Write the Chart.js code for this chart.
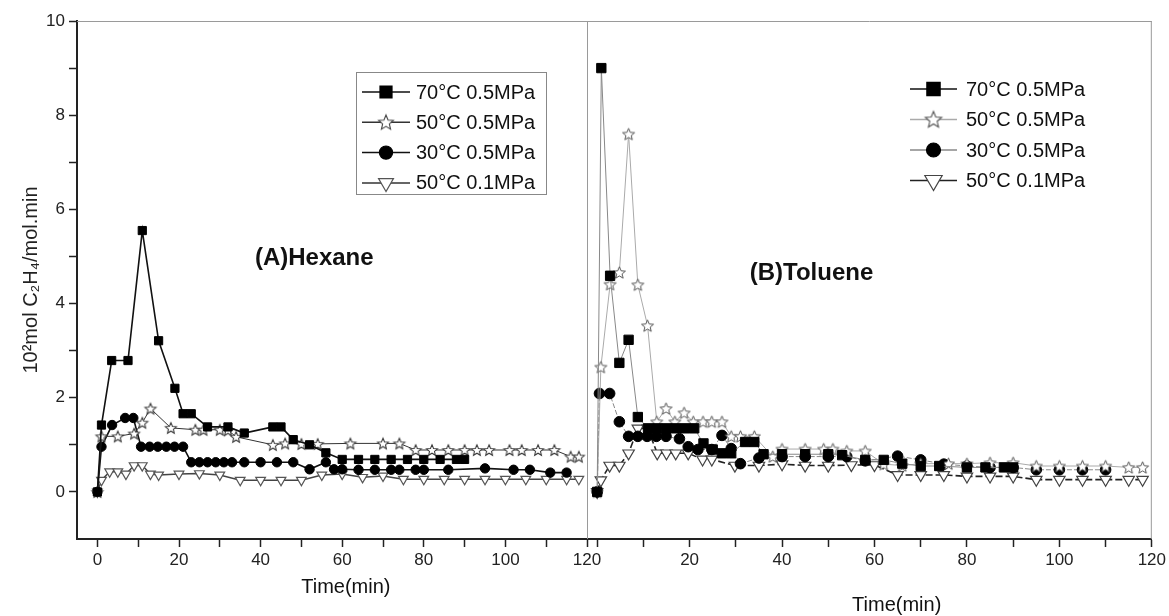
<!DOCTYPE html>
<html><head><meta charset="utf-8">
<script src="https://cdn.jsdelivr.net/npm/chart.js@4/dist/chart.umd.min.js"></script>
<style>
html,body{margin:0;padding:0;background:#fff;}
#wrap{position:relative;width:1169px;height:616px;background:#fff;}
#wrap canvas{position:absolute;left:0;top:0;}
</style></head><body>
<div id="wrap"><canvas id="cA" width="1169" height="616"></canvas><canvas id="cB" width="1169" height="616"></canvas></div>
<script>
// ---------- data ----------
const seriesNames = ['70°C 0.5MPa', '50°C 0.5MPa', '30°C 0.5MPa', '50°C 0.1MPa'];
const yMajor = [0, 2, 4, 6, 8, 10];
const yMinor = [1, 3, 5, 7, 9];
const xMajor = [0, 20, 40, 60, 80, 100, 120];
const xMinor = [10, 30, 50, 70, 90, 110];
const xLabelsRight = [20, 40, 60, 80, 100, 120];

// (A) Hexane
const hexT70 = [0,1,3.5,7.5,11,15,19,21,23,27,32,36,43,45,48,52,56,60,64,68,72,76,80,84,88,90];
const hexV70 = [0,1.42,2.79,2.79,5.55,3.21,2.2,1.66,1.66,1.38,1.38,1.25,1.38,1.38,1.11,1.0,0.83,0.69,0.69,0.69,0.69,0.69,0.69,0.69,0.69,0.69];
const hexT50 = [0,1,5,9,11,13,18,24,26,30,32,34,43,46,50,54,62,70,74,78,82,86,90,93,96,101,104,108,112,116,118];
const hexV50 = [0,1.18,1.18,1.24,1.47,1.77,1.36,1.32,1.32,1.32,1.31,1.17,1.0,1.03,1.02,1.02,1.03,1.03,1.03,0.89,0.89,0.89,0.89,0.89,0.89,0.89,0.89,0.89,0.89,0.75,0.75];
const hexT30 = [0,1,3.6,6.8,8.8,10.7,12.8,14.8,16.9,18.9,21,23,25,27,29,31,33,36,40,44,48,52,56,58,60,64,68,72,74,78,80,86,95,102,106,111,115];
const hexV30 = [0,0.96,1.42,1.57,1.57,0.96,0.96,0.96,0.96,0.96,0.96,0.63,0.63,0.63,0.63,0.63,0.63,0.63,0.63,0.63,0.63,0.48,0.63,0.48,0.48,0.47,0.47,0.47,0.47,0.47,0.47,0.47,0.5,0.47,0.47,0.41,0.41];
const hexT01 = [0,1,3,5,7,9,11,13,15,20,25,30,35,40,45,50,55,60,65,70,75,80,85,90,95,100,105,110,115,118];
const hexV01 = [0,0.25,0.43,0.43,0.38,0.56,0.56,0.38,0.36,0.38,0.39,0.36,0.25,0.25,0.25,0.25,0.36,0.38,0.31,0.34,0.27,0.27,0.27,0.27,0.27,0.27,0.27,0.27,0.27,0.27];

// (B) Toluene
const tolT70 = [0,0.9,2.8,4.8,6.8,8.8,11,13,15,17,19,21,23,25,27,29,32,34,36,40,45,50,53,58,62,66,70,74,80,84,88,90];
const tolV70 = [0,9.0,4.59,2.74,3.23,1.59,1.35,1.35,1.35,1.35,1.35,1.35,1.03,0.9,0.82,0.82,1.06,1.06,0.8,0.8,0.8,0.8,0.78,0.68,0.68,0.6,0.55,0.55,0.52,0.52,0.52,0.52];
const tolT50 = [0,0.8,2.8,4.8,6.8,8.8,10.9,12.9,14.9,16.8,18.8,20.8,22.9,24.8,27,29,31,34,38,40,45,49,51,54,58,62,66,70,76,80,85,90,95,100,105,110,115,118];
const tolV50 = [0,2.65,4.41,4.66,7.6,4.4,3.53,1.49,1.77,1.49,1.68,1.49,1.49,1.49,1.49,1.18,1.18,1.18,0.75,0.91,0.91,0.91,0.91,0.87,0.87,0.59,0.56,0.6,0.6,0.6,0.62,0.62,0.55,0.55,0.55,0.55,0.52,0.52];
const tolT30 = [0,0.5,2.7,4.8,6.8,8.8,10.8,12.8,14.9,17.8,19.7,21.8,24.8,27,29,31,35,40,45,50,54,58,65,70,75,80,85,90,95,100,105,110];
const tolV30 = [0,2.09,2.09,1.49,1.18,1.18,1.18,1.18,1.18,1.13,0.96,0.9,0.9,1.2,0.92,0.6,0.72,0.75,0.75,0.75,0.75,0.66,0.76,0.68,0.59,0.55,0.52,0.52,0.47,0.47,0.47,0.47];
const tolT01 = [0,0.8,2.7,4.8,6.8,8.8,10.9,13,15,17,19.7,22.8,24.8,29.8,35,40,45,50,55,60,65,70,75,80,85,90,95,100,105,110,115,118];
const tolV01 = [0,0.25,0.56,0.56,0.82,1.35,1.35,0.82,0.82,0.82,0.82,0.69,0.69,0.56,0.56,0.59,0.56,0.56,0.57,0.57,0.36,0.36,0.36,0.33,0.33,0.33,0.26,0.26,0.26,0.26,0.26,0.26];

// ---------- helpers ----------
const FF = '"Liberation Sans", Arial, Helvetica, sans-serif';
const zip = (t, v) => t.map((x, i) => ({x: x, y: v[i]}));

function makeStar(r, stroke, lw) {
  const s = Math.ceil(2 * r + 2 * lw + 2);
  const c = document.createElement('canvas');
  c.width = s; c.height = s;
  const g = c.getContext('2d');
  g.beginPath();
  for (let i = 0; i < 10; i++) {
    const rr = (i % 2) ? r * 0.45 : r;
    const a = -Math.PI / 2 + i * Math.PI / 5;
    g.lineTo(s / 2 + rr * Math.cos(a), s / 2 + 0.6 + rr * Math.sin(a));
  }
  g.closePath();
  g.fillStyle = '#fff'; g.fill();
  g.strokeStyle = stroke; g.lineWidth = lw; g.stroke();
  return c;
}
const starA = makeStar(5.8, '#3a3a3a', 1.05);
const starB = makeStar(6.3, '#555', 1);
const starLegA = makeStar(7.8, '#444', 1.1);
const starLegB = makeStar(8.6, '#555', 1.1);

function ds(label, data, o) {
  return Object.assign({
    label: label, data: data, tension: 0, fill: false,
    pointHoverRadius: 0
  }, o);
}

const leftDatasets = [
  ds(seriesNames[0], zip(hexT70, hexV70), {borderColor:'#111', borderWidth:1.6, pointStyle:'rect', pointRadius:5.8, pointBackgroundColor:'#000', pointBorderColor:'#000', pointBorderWidth:1,
     legendStyle:'rect', legendRadius:8.5, legendLine:'#111', legendFill:'#000', legendStroke:'#000'}),
  ds(seriesNames[1], zip(hexT50, hexV50), {borderColor:'#333', borderWidth:1, pointStyle:starA, pointRadius:6,
     legendStyle:starLegA, legendRadius:8, legendLine:'#333'}),
  ds(seriesNames[2], zip(hexT30, hexV30), {borderColor:'#111', borderWidth:1.6, pointStyle:'circle', pointRadius:4.7, pointBackgroundColor:'#000', pointBorderColor:'#000', pointBorderWidth:1,
     legendStyle:'circle', legendRadius:6.6, legendLine:'#111', legendFill:'#000', legendStroke:'#000'}),
  ds(seriesNames[3], zip(hexT01, hexV01), {borderColor:'#444', borderWidth:1.5, pointStyle:'triangle', pointRotation:180, pointRadius:5.6, pointBackgroundColor:'#fff', pointBorderColor:'#555', pointBorderWidth:1.2,
     legendStyle:'triangle', legendRadius:8.6, legendLine:'#333', legendFill:'#fff', legendStroke:'#555'})
];
const rightDatasets = [
  ds(seriesNames[0], zip(tolT70, tolV70), {borderColor:'#888', borderWidth:1, pointStyle:'rect', pointRadius:6.6, pointBackgroundColor:'#000', pointBorderColor:'#000', pointBorderWidth:1,
     legendStyle:'rect', legendRadius:9.4, legendLine:'#111', legendFill:'#000', legendStroke:'#000'}),
  ds(seriesNames[1], zip(tolT50, tolV50), {borderColor:'#aaa', borderWidth:1, pointStyle:starB, pointRadius:6,
     legendStyle:starLegB, legendRadius:9, legendLine:'#aaa'}),
  ds(seriesNames[2], zip(tolT30, tolV30), {borderColor:'#888', borderWidth:1, borderDash:[5,2], pointStyle:'circle', pointRadius:5.3, pointBackgroundColor:'#000', pointBorderColor:'#000', pointBorderWidth:1,
     legendStyle:'circle', legendRadius:7, legendLine:'#888', legendFill:'#000', legendStroke:'#000'}),
  ds(seriesNames[3], zip(tolT01, tolV01), {borderColor:'#222', borderWidth:1.6, borderDash:[7,3], pointStyle:'triangle', pointRotation:180, pointRadius:6.6, pointBackgroundColor:'#fff', pointBorderColor:'#444', pointBorderWidth:1.2,
     legendStyle:'triangle', legendRadius:10, legendLine:'#222', legendFill:'#fff', legendStroke:'#444'})
];

// ---------- plugins ----------
function drawMarker(ctx, style, rot, r, x, y) {
  if (Chart.helpers && Chart.helpers.drawPoint) {
    Chart.helpers.drawPoint(ctx, {pointStyle: style, rotation: rot || 0, radius: r, borderWidth: ctx.lineWidth}, x, y);
    return;
  }
  if (style instanceof HTMLCanvasElement) { ctx.drawImage(style, x - style.width/2, y - style.height/2); return; }
  ctx.beginPath();
  if (style === 'rect') { const s = r * Math.SQRT1_2; ctx.rect(x - s, y - s, 2*s, 2*s); }
  else if (style === 'circle') { ctx.arc(x, y, r, 0, Math.PI*2); }
  else { for (let i = 0; i < 3; i++) { const a = (rot||0)*Math.PI/180 + i*2*Math.PI/3; ctx.lineTo(x + Math.sin(a)*r, y - Math.cos(a)*r); } ctx.closePath(); }
  ctx.fill(); ctx.stroke();
}

const panelLegend = {
  id: 'panelLegend',
  afterDatasetsDraw(chart, args, o) {
    const ctx = chart.ctx;
    ctx.save();
    if (o.box) {
      ctx.strokeStyle = '#888'; ctx.lineWidth = 1;
      ctx.strokeRect(o.box[0] + 0.5, o.box[1] + 0.5, o.box[2], o.box[3]);
    }
    chart.data.datasets.forEach((d, i) => {
      const y = o.y0 + i * o.dy;
      ctx.setLineDash([]);
      ctx.strokeStyle = d.legendLine; ctx.lineWidth = 1.5;
      ctx.beginPath(); ctx.moveTo(o.lineL, y); ctx.lineTo(o.lineR, y); ctx.stroke();
      ctx.fillStyle = d.legendFill || '#fff';
      ctx.strokeStyle = d.legendStroke || '#444';
      ctx.lineWidth = 1.2;
      drawMarker(ctx, d.legendStyle, d.pointRotation || 0, d.legendRadius, (o.lineL + o.lineR) / 2, y);
      ctx.fillStyle = '#111';
      ctx.font = o.font;
      ctx.textAlign = 'left'; ctx.textBaseline = 'middle';
      ctx.fillText(d.label, o.textX, y + 1);
    });
    ctx.restore();
  }
};

const panelText = {
  id: 'panelText',
  afterDraw(chart, args, o) {
    const ctx = chart.ctx, xs = chart.scales.x, ys = chart.scales.y;
    ctx.save();
    (o.items || []).forEach(it => {
      ctx.font = it.font; ctx.fillStyle = '#111';
      ctx.textAlign = it.align; ctx.textBaseline = 'middle';
      ctx.fillText(it.text, xs.getPixelForValue(it.x), ys.getPixelForValue(it.y));
    });
    ctx.restore();
  }
};

const frame = {
  id: 'frame',
  beforeDatasetsDraw(chart, args, o) {
    const ctx = chart.ctx, a = chart.chartArea;
    ctx.save();
    ctx.strokeStyle = '#9a9a9a'; ctx.lineWidth = 1;
    ctx.beginPath();
    ctx.moveTo(a.left, a.top + 0.5); ctx.lineTo(a.right, a.top + 0.5);
    if (o.sides) {
      ctx.moveTo(a.left + 0.5, a.top); ctx.lineTo(a.left + 0.5, a.bottom);
      ctx.moveTo(a.right - 0.5, a.top); ctx.lineTo(a.right - 0.5, a.bottom);
    }
    ctx.stroke();
    ctx.restore();
  }
};

function xScale(min, labels) {
  return {
    type: 'linear', min: min, max: 120,
    afterFit(s) { s.height = 77; },
    afterBuildTicks(s) { s.ticks = xMajor.concat(xMinor).sort((a, b) => a - b).map(v => ({value: v})); },
    ticks: {autoSkip: false, maxRotation: 0, minRotation: 0, padding: 3, color: '#222',
            font: {family: FF, size: 17},
            callback: v => labels.includes(v) ? String(v) : ''},
    grid: {display: true, drawOnChartArea: false, drawTicks: true, tickLength: 8, tickColor: '#222', tickWidth: 1.5},
    border: {display: true, color: '#222', width: 2}
  };
}
function yScale(show) {
  const s = {
    type: 'linear', min: -1, max: 10, display: show,
    afterBuildTicks(sc) { sc.ticks = yMajor.concat(yMinor).sort((a, b) => a - b).map(v => ({value: v})); },
    ticks: {autoSkip: false, padding: 4, color: '#222', font: {family: FF, size: 17},
            callback: v => yMajor.includes(v) ? String(v) : ''},
    grid: {display: true, drawOnChartArea: false, drawTicks: true, tickLength: 8, tickColor: '#222', tickWidth: 1.5},
    border: {display: true, color: '#222', width: 2},
    title: {display: true, text: '10²mol C₂H₄/mol.min', color: '#222', font: {family: FF, size: 20}, padding: {top: 19, bottom: 0}}
  };
  if (show) s.afterFit = sc => { sc.width = 77; };
  return s;
}

new Chart(document.getElementById('cA'), {
  type: 'line',
  data: {datasets: leftDatasets},
  options: {
    responsive: false, animation: false, devicePixelRatio: 1,
    layout: {padding: {top: 21, right: 582, left: 0, bottom: 0}},
    plugins: {
      legend: {display: false}, tooltip: {enabled: false},
      panelLegend: {box: [356, 72, 190, 122], y0: 92, dy: 30.3, lineL: 362, lineR: 410, textX: 416, font: '20px ' + FF},
      panelText: {items: [
        {text: '(A)Hexane', x: 38.6, y: 4.95, align: 'left', font: 'bold 24px ' + FF},
        {text: 'Time(min)', x: 60.9, y: -2.02, align: 'center', font: '20px ' + FF}
      ]},
      frame: {sides: false}
    },
    scales: {x: xScale(-5, xMajor), y: yScale(true)}
  },
  plugins: [frame, panelLegend, panelText]
});

new Chart(document.getElementById('cB'), {
  type: 'line',
  data: {datasets: rightDatasets},
  options: {
    responsive: false, animation: false, devicePixelRatio: 1,
    layout: {padding: {top: 21, right: 17, left: 587, bottom: 0}},
    plugins: {
      legend: {display: false}, tooltip: {enabled: false},
      panelLegend: {box: null, y0: 89, dy: 30.5, lineL: 910, lineR: 957, textX: 966, font: '20px ' + FF},
      panelText: {items: [
        {text: '(B)Toluene', x: 33.0, y: 4.65, align: 'left', font: 'bold 24px ' + FF},
        {text: 'Time(min)', x: 64.8, y: -2.42, align: 'center', font: '20px ' + FF}
      ]},
      frame: {sides: true}
    },
    scales: {x: xScale(-2.2, xLabelsRight), y: yScale(false)}
  },
  plugins: [frame, panelLegend, panelText]
});
</script>
</body></html>
